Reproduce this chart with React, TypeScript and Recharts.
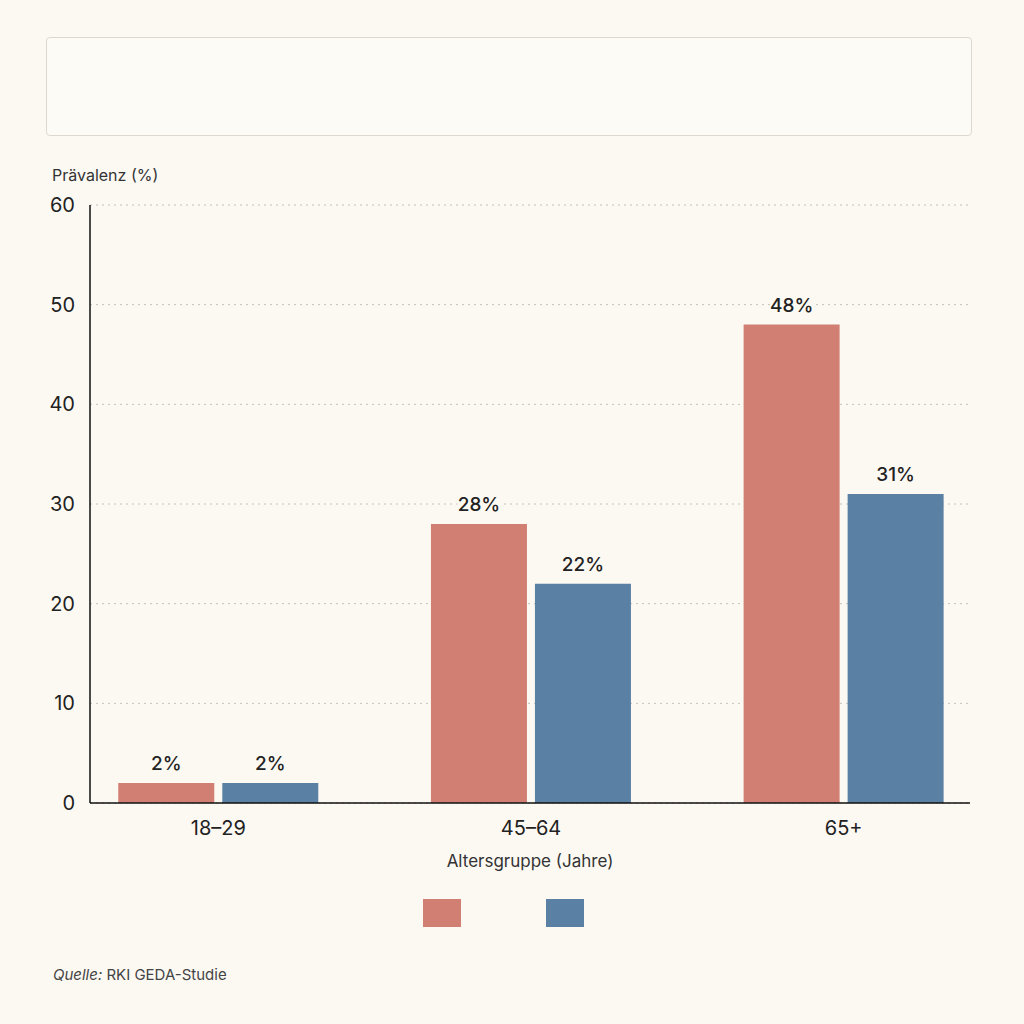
import React from "react";
import { BarChart, Bar, XAxis, YAxis, CartesianGrid, LabelList } from "recharts";

const ageGroups = ["18–29", "45–64", "65+"];
const seriesA = [2, 28, 48];
const seriesB = [2, 22, 31];
const yTicks = [0, 10, 20, 30, 40, 50, 60];

const COLORS = ["#d07f72", "#5a80a3"];
const BG = "#fcf9f3";
const FONT = "Inter, 'Noto Sans', sans-serif";

const data = ageGroups.map((group, i) => ({
  group,
  a: seriesA[i],
  b: seriesB[i],
}));

// value label above each bar, with a small background patch so grid dots don't run through it
const ValueLabel = (props: any) => {
  const { x, y, width, value } = props;
  const cx = x + width / 2;
  const text = `${value}%`;
  const w = text.length * 11 + 10;
  return (
    <g>
      <rect x={cx - w / 2} y={y - 32} width={w} height={24} fill={BG} />
      <text
        x={cx}
        y={y - 13}
        textAnchor="middle"
        fontSize={19}
        fontWeight={500}
        fill="#222"
        fontFamily={FONT}
      >
        {text}
      </text>
    </g>
  );
};

export default function App() {
  return (
    <div
      style={{
        position: "absolute",
        left: 0,
        top: 0,
        width: 1024,
        height: 1024,
        background: BG,
        fontFamily: FONT,
        overflow: "hidden",
      }}
    >
      <div
        style={{
          position: "absolute",
          left: 46,
          top: 37,
          width: 924,
          height: 97,
          border: "1.5px solid #dcd8d0",
          borderRadius: 4,
          background: "#fdfbf6",
        }}
      />
      <div
        style={{
          position: "absolute",
          left: 52,
          top: 165,
          fontSize: 16,
          color: "#333",
        }}
      >
        Prävalenz (%)
      </div>

      <div style={{ position: "absolute", left: 0, top: 0 }}>
        <BarChart
          width={1024}
          height={900}
          data={data}
          margin={{ top: 205, right: 54, bottom: 27, left: 0 }}
          barCategoryGap="18%"
          barGap={8}
        >
          <CartesianGrid
            vertical={false}
            stroke="#c4c0b8"
            strokeDasharray="2 4"
          />
          <XAxis
            dataKey="group"
            height={70}
            padding={{ left: -28, right: -30 }}
            axisLine={{ stroke: "#111", strokeWidth: 1.5 }}
            tickLine={false}
            tickMargin={12}
            tick={{ fontSize: 20, fill: "#222", fontFamily: FONT }}
            label={{
              value: "Altersgruppe (Jahre)",
              position: "insideBottom",
              offset: 6,
              fontSize: 17,
              fill: "#333",
              fontFamily: FONT,
            }}
          />
          <YAxis
            width={90}
            domain={[0, 60]}
            ticks={yTicks}
            axisLine={{ stroke: "#111", strokeWidth: 1.5 }}
            tickLine={false}
            tickMargin={9}
            tick={{ fontSize: 20, fill: "#222", fontFamily: FONT }}
          />
          <Bar dataKey="a" fill={COLORS[0]} isAnimationActive={false}>
            <LabelList dataKey="a" content={ValueLabel} />
          </Bar>
          <Bar dataKey="b" fill={COLORS[1]} isAnimationActive={false}>
            <LabelList dataKey="b" content={ValueLabel} />
          </Bar>
        </BarChart>
      </div>

      <div
        style={{
          position: "absolute",
          left: 423,
          top: 899,
          display: "flex",
          gap: 85,
        }}
      >
        {COLORS.map((c, i) => (
          <div key={i} style={{ width: 38, height: 28, background: c }} />
        ))}
      </div>

      <div
        style={{
          position: "absolute",
          left: 53,
          top: 965,
          fontSize: 15,
          color: "#444",
        }}
      >
        <span style={{ fontStyle: "italic" }}>Quelle:</span> RKI GEDA-Studie
      </div>
    </div>
  );
}
